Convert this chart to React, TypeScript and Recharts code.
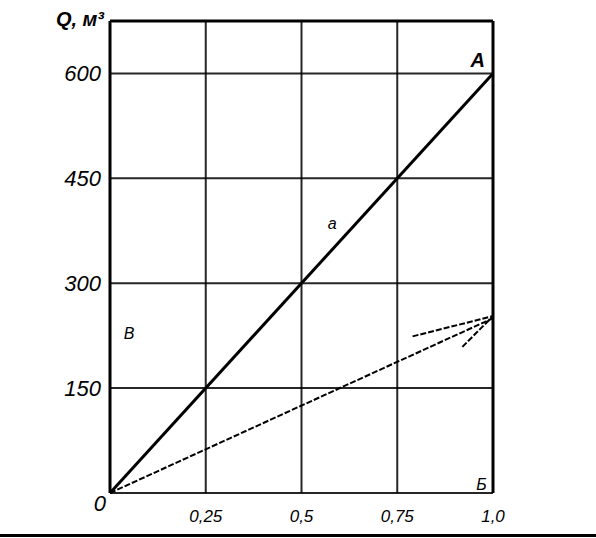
import React from 'react';
import { LineChart, Line, XAxis, YAxis, CartesianGrid, ReferenceLine, ReferenceDot } from 'recharts';

const xTicks = [0, 0.25, 0.5, 0.75, 1];
const xTickLabels = ['', '0,25', '0,5', '0,75', '1,0'];
const yTicks = [0, 150, 300, 450, 600, 675];
const yTickLabels = ['0', '150', '300', '450', '600', 'Q, м³'];

const lineAx = [0, 1];
const lineAq = [0, 600];
const lineBx = [0, 1];
const lineBq = [0, 250];
const lineCx = [0.79, 1];
const lineCq = [224, 253];
const lineDx = [0.92, 1];
const lineDq = [209, 253];

const toData = (xs: number[], qs: number[]) => xs.map((x, i) => ({ x, q: qs[i] }));
const dataA = toData(lineAx, lineAq);
const dataB = toData(lineBx, lineBq);
const dataC = toData(lineCx, lineCq);
const dataD = toData(lineDx, lineDq);

const FONT = '"Liberation Sans", Arial, sans-serif';

const YTick = (props: any) => {
  const { y, payload } = props;
  const idx = yTicks.indexOf(payload.value);
  const label = yTickLabels[idx];
  const isTop = payload.value === 675;
  const isZero = payload.value === 0;
  return (
    <text
      x={isZero ? 106 : isTop ? 104 : 101}
      y={isZero ? y + 18 : isTop ? y + 5 : y + 8}
      textAnchor="end"
      fontFamily={FONT}
      fontStyle="italic"
      fontWeight={isTop ? 'bold' : 'normal'}
      fontSize={isTop ? 20 : 22}
      fill="#000"
    >
      {label}
    </text>
  );
};

const XTick = (props: any) => {
  const { x, y, payload } = props;
  const idx = xTicks.indexOf(payload.value);
  return (
    <text x={x} y={y + 21} textAnchor="middle" fontFamily={FONT} fontStyle="italic" fontSize={17} fill="#000">
      {xTickLabels[idx]}
    </text>
  );
};

export default function App() {
  return (
    <div style={{ position: 'absolute', left: 0, top: 0, width: 596, height: 538, background: '#fff' }}>
      <LineChart width={596} height={538} margin={{ top: 21, right: 103, bottom: 0, left: 10 }}>
        <CartesianGrid stroke="#000" strokeWidth={2} strokeOpacity={0.85} />
        <XAxis
          type="number"
          dataKey="x"
          domain={[0, 1]}
          ticks={xTicks}
          axisLine={false}
          tickLine={false}
          height={45}
          tick={<XTick />}
          interval={0}
        />
        <YAxis
          type="number"
          dataKey="q"
          domain={[0, 675]}
          ticks={yTicks}
          axisLine={false}
          tickLine={false}
          width={100}
          tick={<YTick />}
          interval={0}
        />
        <ReferenceLine x={0} stroke="#000" strokeWidth={3} />
        <ReferenceLine x={1} stroke="#000" strokeWidth={3} />
        <ReferenceLine y={675} stroke="#000" strokeWidth={3} />
        <Line data={dataA} dataKey="q" stroke="#000" strokeWidth={3} dot={false} isAnimationActive={false} />
        <Line data={dataB} dataKey="q" stroke="#000" strokeWidth={2} strokeDasharray="6 2" dot={false} isAnimationActive={false} />
        <Line data={dataC} dataKey="q" stroke="#000" strokeWidth={2} strokeDasharray="6 2" dot={false} isAnimationActive={false} />
        <Line data={dataD} dataKey="q" stroke="#000" strokeWidth={2} strokeDasharray="6 2" dot={false} isAnimationActive={false} />
        <ReferenceDot
          x={0.96}
          y={620}
          r={0}
          label={{ value: 'A', position: 'center', fontFamily: FONT, fontStyle: 'italic', fontWeight: 'bold', fontSize: 20, fill: '#000' }}
        />
        <ReferenceDot
          x={0.97}
          y={12}
          r={0}
          label={{ value: 'Б', position: 'center', fontFamily: FONT, fontStyle: 'italic', fontSize: 16, fill: '#000' }}
        />
        <ReferenceDot
          x={0.58}
          y={385}
          r={0}
          label={{ value: 'a', position: 'center', fontFamily: FONT, fontStyle: 'italic', fontSize: 16, fill: '#000' }}
        />
        <ReferenceDot
          x={0.05}
          y={228}
          r={0}
          label={{ value: 'В', position: 'center', fontFamily: FONT, fontStyle: 'italic', fontSize: 16, fill: '#000' }}
        />
      </LineChart>
      <div style={{ position: 'absolute', left: 0, top: 534, width: 596, height: 3, background: '#000' }} />
    </div>
  );
}
